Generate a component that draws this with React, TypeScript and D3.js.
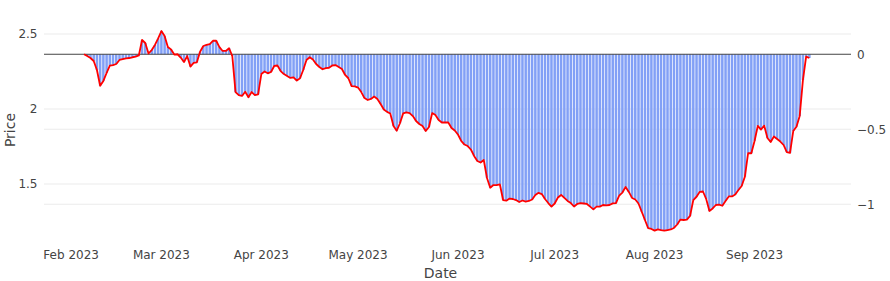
import React from "react";
import * as d3 from "d3";

// ---- data ----
const startDate = new Date(2023, 1, 5); // first trading day shown: 5 Feb 2023
const prices: number[] = [
  2.365, 2.353, 2.340, 2.320, 2.260, 2.155, 2.187, 2.240, 2.289, 2.293,
  2.300, 2.327, 2.333, 2.338, 2.340, 2.345, 2.349, 2.357, 2.460, 2.440,
  2.370, 2.393, 2.427, 2.471, 2.520, 2.487, 2.413, 2.397, 2.363, 2.365,
  2.343, 2.313, 2.353, 2.283, 2.307, 2.311, 2.382, 2.420, 2.427, 2.433,
  2.455, 2.455, 2.413, 2.387, 2.387, 2.405, 2.353, 2.113, 2.093, 2.087,
  2.115, 2.078, 2.113, 2.093, 2.097, 2.233, 2.250, 2.238, 2.247, 2.287,
  2.290, 2.253, 2.233, 2.220, 2.207, 2.211, 2.189, 2.205, 2.260, 2.327,
  2.345, 2.330, 2.300, 2.280, 2.265, 2.273, 2.275, 2.290, 2.293, 2.280,
  2.267, 2.227, 2.205, 2.153, 2.151, 2.143, 2.113, 2.073, 2.060, 2.067,
  2.083, 2.067, 2.033, 1.997, 1.981, 1.970, 1.887, 1.855, 1.905, 1.971,
  1.977, 1.973, 1.953, 1.920, 1.900, 1.887, 1.853, 1.880, 1.973, 1.960,
  1.927, 1.910, 1.910, 1.910, 1.873, 1.857, 1.830, 1.787, 1.763, 1.753,
  1.730, 1.687, 1.653, 1.643, 1.660, 1.540, 1.475, 1.493, 1.493, 1.497,
  1.393, 1.389, 1.403, 1.400, 1.393, 1.380, 1.390, 1.383, 1.387, 1.397,
  1.427, 1.441, 1.433, 1.400, 1.373, 1.349, 1.370, 1.410, 1.427, 1.407,
  1.387, 1.373, 1.350, 1.367, 1.373, 1.370, 1.367, 1.349, 1.331, 1.349,
  1.349, 1.360, 1.357, 1.360, 1.371, 1.373, 1.423, 1.443, 1.480, 1.447,
  1.407, 1.397, 1.370, 1.315, 1.260, 1.205, 1.200, 1.189, 1.198, 1.193,
  1.189, 1.193, 1.197, 1.207, 1.230, 1.263, 1.260, 1.263, 1.287, 1.393,
  1.415, 1.448, 1.450, 1.400, 1.320, 1.337, 1.360, 1.363, 1.355, 1.387,
  1.417, 1.417, 1.430, 1.460, 1.487, 1.549, 1.705, 1.705, 1.787, 1.887,
  1.863, 1.889, 1.807, 1.780, 1.817, 1.800, 1.783, 1.760, 1.713, 1.707,
  1.853, 1.882, 1.953, 2.193, 2.349, 2.340,
];
const priceTicks = [1.5, 2, 2.5];
const changeTicks = [-1, -0.5, 0];
const priceRange = [1.1533, 2.5667];
const dateRange = [new Date(2023, 0, 23, 14), new Date(2023, 8, 30, 22)];
const xTitle = "Date";
const yTitle = "Price";

// ---- layout ----
const W = 890;
const H = 281;
const M = { left: 44, right: 851, top: 24, bottom: 236 };
const FONT = "'DejaVu Sans', Verdana, sans-serif";
const TXT = "#444";
const GRID = "#ebebeb";
const BAR = "rgb(130,160,246)";

export default function App() {
  const dates = prices.map((_, i) => d3.timeDay.offset(startDate, i));
  const base = prices[0];
  const changes = prices.map((p) => p - base);

  const x = d3.scaleTime().domain(dateRange).range([M.left, M.right]);
  const yL = d3.scaleLinear().domain(priceRange).range([M.bottom, M.top]);
  const yR = d3
    .scaleLinear()
    .domain([priceRange[0] - base, priceRange[1] - base])
    .range([M.bottom, M.top]);

  const dayW = x(d3.timeDay.offset(startDate, 1)) - x(startDate);
  const bw = dayW * 0.78;

  const line = d3
    .line<number>()
    .x((_, i) => x(dates[i]))
    .y((d) => yL(d));

  const months = d3.timeMonth.range(new Date(2023, 1, 1), new Date(2023, 8, 2));
  const fmt = d3.timeFormat("%b %Y");
  const fmtR = (v: number) => (v === 0 ? "0" : String(v).replace("-", "\u2212"));

  return (
    <svg
      width={W}
      height={H}
      style={{ position: "absolute", left: 0, top: 0, background: "#fff" }}
      fontFamily={FONT}
    >
      {/* grids */}
      {priceTicks.map((t) => (
        <line key={"gl" + t} x1={M.left} x2={M.right} y1={yL(t)} y2={yL(t)} stroke={GRID} strokeWidth={1} />
      ))}
      {changeTicks
        .filter((t) => t !== 0)
        .map((t) => (
          <line key={"gr" + t} x1={M.left} x2={M.right} y1={yR(t)} y2={yR(t)} stroke={GRID} strokeWidth={1} />
        ))}

      {/* bars */}
      {changes.map((v, i) => {
        const y0 = yR(Math.max(0, v));
        const y1 = yR(Math.min(0, v));
        return (
          <rect
            key={"b" + i}
            x={x(dates[i]) - bw / 2}
            y={y0}
            width={bw}
            height={Math.max(0, y1 - y0)}
            fill={BAR}
          />
        );
      })}

      {/* zero line */}
      <line x1={M.left} x2={M.right} y1={yR(0)} y2={yR(0)} stroke="#444" strokeWidth={1} />

      {/* price line */}
      <path d={line(prices) || ""} fill="none" stroke="red" strokeWidth={1.8} strokeLinejoin="round" />

      {/* left ticks */}
      {priceTicks.map((t) => (
        <text key={"tl" + t} x={37.5} y={yL(t)} dy="0.36em" textAnchor="end" fontSize={12} fill={TXT}>
          {String(t)}
        </text>
      ))}
      {/* right ticks */}
      {changeTicks.map((t) => (
        <text key={"tr" + t} x={857} y={yR(t)} dy="0.36em" textAnchor="start" fontSize={12} fill={TXT}>
          {fmtR(t)}
        </text>
      ))}
      {/* x ticks */}
      {months.map((m) => (
        <text key={"tx" + m.getTime()} x={x(m)} y={258.5} textAnchor="middle" fontSize={12} fill={TXT}>
          {fmt(m)}
        </text>
      ))}

      {/* titles */}
      <text x={(M.left + M.right) / 2 - 7} y={278} textAnchor="middle" fontSize={14} fill={TXT}>
        {xTitle}
      </text>
      <text transform="translate(15,130) rotate(-90)" textAnchor="middle" fontSize={14} fill={TXT}>
        {yTitle}
      </text>
    </svg>
  );
}
